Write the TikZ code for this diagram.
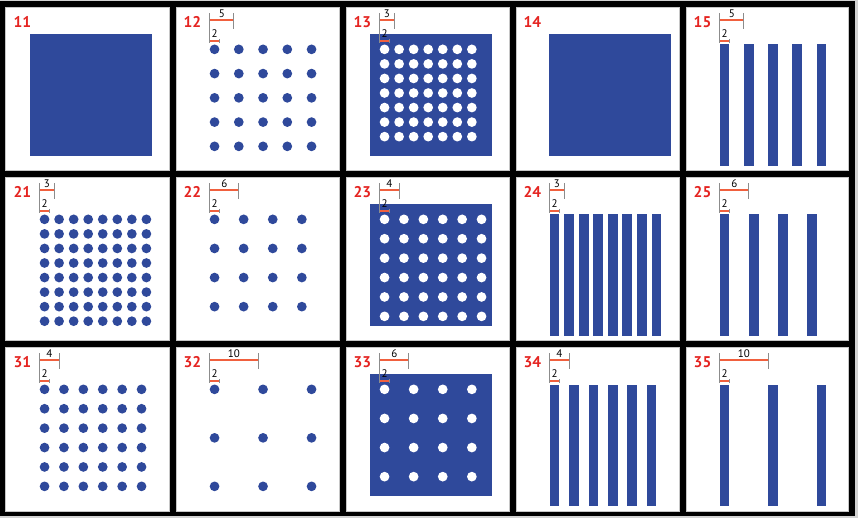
\documentclass[tikz,border=0pt]{standalone}
\usepackage{fontspec}
\setmainfont{PT Sans}
\definecolor{pblue}{RGB}{47,73,155}
\definecolor{dimorange}{RGB}{240,96,62}
\definecolor{lblred}{RGB}{229,36,33}
\definecolor{dimgray}{RGB}{140,140,140}
\tikzset{
  panelbox/.style={fill=white,draw=gray!45,line width=0.7pt},
  solidsq/.style={fill=pblue},
  holedot/.style={fill=white},
  bluedot/.style={fill=pblue},
  dimbar/.style={fill=dimorange},
  dimtick/.style={color=dimgray,line width=1pt},
  panellabel/.style={text=lblred,font=\fontsize{15.5}{15.5}\selectfont\bfseries,inner sep=0pt,anchor=base west},
  dimlabel/.style={text=black,font=\fontsize{11}{11}\selectfont,inner sep=0pt,anchor=base}
}
\newcommand\uu{4.85}
\newcommand\pLabel[3]{%
  \begin{scope}[shift={(170*#1,170*#2)}]
    \node[panellabel] (lab#3) at (13.5,27.3) {#3};
  \end{scope}}
\newcommand\pSquare[3]{% col row left
  \begin{scope}[shift={(170*#1,170*#2)}]
    \fill[solidsq] (#3,34.2) rectangle (#3+122,156);
  \end{scope}}
\newcommand\pDots[5]{% col row pitch count style
  \begin{scope}[shift={(170*#1,170*#2)}]
    \foreach \i in {1,...,#4}{\foreach \j in {1,...,#4}{
      \fill[#5] ({39.7+\uu+(\i-1)*#3*\uu},{44.5+\uu+(\j-1)*#3*\uu}) circle[radius=\uu];}}
  \end{scope}}
\newcommand\pBars[4]{% col row pitch count
  \begin{scope}[shift={(170*#1,170*#2)}]
    \foreach \i in {1,...,#4}{
      \fill[pblue] ({39.7+(\i-1)*#3*\uu},44.5) rectangle ({39.7+(\i-1)*#3*\uu+2*\uu},{44.5+25*\uu});}
  \end{scope}}
\newcommand\pDims[4]{% col row pitch name
  \begin{scope}[shift={(170*#1,170*#2)}]
    \coordinate (va#4) at (39.7,13.3);
    \coordinate (vb#4) at (39.7,42.7);
    \coordinate (pa#4) at (39.7,18.9);
    \coordinate (pb#4) at ({39.7+#3*\uu},20.7);
    \coordinate (ta#4) at ({39.7+#3*\uu},13.3);
    \coordinate (tb#4) at ({39.7+#3*\uu},29);
    \coordinate (da#4) at (39.7,40.3);
    \coordinate (db#4) at ({39.7+2*\uu},42.1);
    \coordinate (sa#4) at ({39.7+2*\uu},39);
    \coordinate (sb#4) at ({39.7+2*\uu},42.7);
    \fill[dimbar] (pa#4) rectangle (pb#4);
    \fill[dimbar] (da#4) rectangle (db#4);
    \draw[dimtick] (va#4) -- (vb#4);
    \draw[dimtick] (ta#4) -- (tb#4);
    \draw[dimtick] (sa#4) -- (sb#4);
    \node[dimlabel] (pl#4) at ({39.7+#3*\uu/2},17.4) {#3};
    \node[dimlabel] (dl#4) at ({39.7+\uu},37.6) {2};
  \end{scope}}
\begin{document}
\begin{tikzpicture}[x=1pt,y=-1pt]
\useasboundingbox (0,0) rectangle (858,518);
\fill[gray!35] (0,0) rectangle (858,518);
\fill[black] (0,1) rectangle (855,516);
\foreach \xa/\xb in {5/170,176/340,346/510,516/680,686/849}{
  \foreach \ya/\yb in {7/171,177/341,347/512}{
    \filldraw[panelbox] (\xa+0.35,\ya+0.35) rectangle (\xb-0.35,\yb-0.35);}}
% row 1
\pSquare{0}{0}{30}\pLabel{0}{0}{11}
\pDots{1}{0}{5}{5}{bluedot}\pDims{1}{0}{5}{d12}\pLabel{1}{0}{12}
\pSquare{2}{0}{30}\pDots{2}{0}{3}{7}{holedot}\pDims{2}{0}{3}{d13}\pLabel{2}{0}{13}
\pSquare{3}{0}{39.3}\pLabel{3}{0}{14}
\pBars{4}{0}{5}{5}\pDims{4}{0}{5}{d15}\pLabel{4}{0}{15}
% row 2
\pDots{0}{1}{3}{8}{bluedot}\pDims{0}{1}{3}{d21}\pLabel{0}{1}{21}
\pDots{1}{1}{6}{4}{bluedot}\pDims{1}{1}{6}{d22}\pLabel{1}{1}{22}
\pSquare{2}{1}{30}\pDots{2}{1}{4}{6}{holedot}\pDims{2}{1}{4}{d23}\pLabel{2}{1}{23}
\pBars{3}{1}{3}{8}\pDims{3}{1}{3}{d24}\pLabel{3}{1}{24}
\pBars{4}{1}{6}{4}\pDims{4}{1}{6}{d25}\pLabel{4}{1}{25}
% row 3
\pDots{0}{2}{4}{6}{bluedot}\pDims{0}{2}{4}{d31}\pLabel{0}{2}{31}
\pDots{1}{2}{10}{3}{bluedot}\pDims{1}{2}{10}{d32}\pLabel{1}{2}{32}
\pSquare{2}{2}{30}\pDots{2}{2}{6}{4}{holedot}\pDims{2}{2}{6}{d33}\pLabel{2}{2}{33}
\pBars{3}{2}{4}{6}\pDims{3}{2}{4}{d34}\pLabel{3}{2}{34}
\pBars{4}{2}{10}{3}\pDims{4}{2}{10}{d35}\pLabel{4}{2}{35}
\end{tikzpicture}
\end{document}
